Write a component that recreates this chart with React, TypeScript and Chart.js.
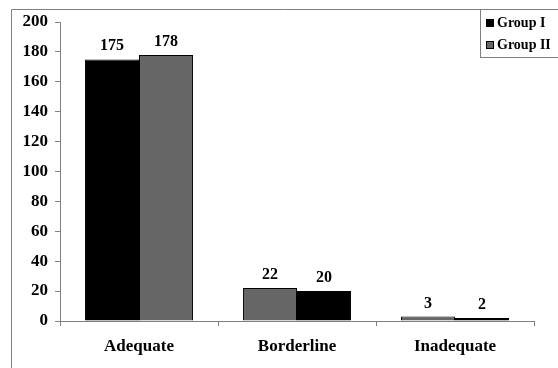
import React, { useEffect, useRef } from "react";
import { Chart, registerables } from "chart.js";

Chart.register(...registerables);

const categories = ["Adequate", "Borderline", "Inadequate"];
// Left bar in each group and right bar in each group (as drawn in the picture)
const leftValues = [175, 22, 3];
const rightValues = [178, 20, 2];
const leftColors = ["#000000", "#666666", "#666666"];
const rightColors = ["#666666", "#000000", "#000000"];
const legendLabels = ["Group I", "Group II"];
const legendColors = ["#000000", "#666666"];
const yTicks = { min: 0, max: 200, step: 20 };

const FONT = "'Liberation Serif', 'Times New Roman', serif";

const framePlugin = {
  id: "frame",
  beforeDraw(chart: any) {
    const ctx = chart.ctx;
    ctx.save();
    ctx.fillStyle = "#ffffff";
    ctx.fillRect(0, 0, chart.width, chart.height);
    ctx.strokeStyle = "#808080";
    ctx.lineWidth = 1;
    ctx.beginPath();
    ctx.moveTo(11.5, chart.height);
    ctx.lineTo(11.5, 9.5);
    ctx.lineTo(chart.width, 9.5);
    ctx.stroke();
    ctx.restore();
  },
};

const valueLabelPlugin = {
  id: "valueLabels",
  afterDatasetsDraw(chart: any) {
    const ctx = chart.ctx;
    ctx.save();
    ctx.font = `bold 16px ${FONT}`;
    ctx.fillStyle = "#000000";
    ctx.textAlign = "center";
    ctx.textBaseline = "alphabetic";
    chart.data.datasets.forEach((ds: any, di: number) => {
      const meta = chart.getDatasetMeta(di);
      meta.data.forEach((bar: any, i: number) => {
        ctx.fillText(String(ds.data[i]), bar.x, bar.y - 9);
      });
    });
    ctx.restore();
  },
};

const legendPlugin = {
  id: "customLegend",
  afterDraw(chart: any) {
    const ctx = chart.ctx;
    ctx.save();
    const x = 480.5;
    const y = 9.5;
    ctx.fillStyle = "#ffffff";
    ctx.fillRect(x, y, 100, 48);
    ctx.strokeStyle = "#808080";
    ctx.lineWidth = 1;
    ctx.strokeRect(x, y, 100, 48);
    ctx.font = `bold 14px ${FONT}`;
    ctx.textBaseline = "alphabetic";
    legendLabels.forEach((label, i) => {
      const cy = 27 + i * 22;
      ctx.fillStyle = legendColors[i];
      ctx.fillRect(486, cy - 8, 8, 8);
      ctx.strokeStyle = "#000000";
      ctx.strokeRect(486.5, cy - 7.5, 7, 7);
      ctx.fillStyle = "#000000";
      ctx.fillText(label, 497, cy);
    });
    ctx.restore();
  },
};

export default function App() {
  const canvasRef = useRef<HTMLCanvasElement | null>(null);

  useEffect(() => {
    document.body.style.margin = "0";
    const canvas = canvasRef.current;
    if (!canvas) return;
    const chart = new Chart(canvas, {
      type: "bar",
      data: {
        labels: categories,
        datasets: [
          {
            label: "left",
            data: leftValues,
            backgroundColor: leftColors,
            borderColor: "#000000",
            borderWidth: 1,
            barPercentage: 1,
            categoryPercentage: 0.684,
          },
          {
            label: "right",
            data: rightValues,
            backgroundColor: rightColors,
            borderColor: "#000000",
            borderWidth: 1,
            barPercentage: 1,
            categoryPercentage: 0.684,
          },
        ],
      },
      options: {
        animation: false,
        responsive: false,
        layout: { padding: { left: 0, right: 24, top: 22, bottom: 0 } },
        plugins: {
          legend: { display: false },
          tooltip: { enabled: false },
        },
        scales: {
          x: {
            grid: {
              offset: true,
              drawOnChartArea: false,
              drawTicks: true,
              tickLength: 5,
              color: "#808080",
            },
            border: { color: "#808080" },
            ticks: {
              color: "#000000",
              font: { family: FONT, size: 17, weight: "bold" },
              padding: 10,
              maxRotation: 0,
            },
            afterFit(scale: any) {
              scale.height = 47;
            },
          },
          y: {
            min: yTicks.min,
            max: yTicks.max,
            grid: {
              drawOnChartArea: false,
              drawTicks: true,
              tickLength: 5,
              color: "#808080",
            },
            border: { color: "#808080" },
            ticks: {
              stepSize: yTicks.step,
              color: "#000000",
              font: { family: FONT, size: 17, weight: "bold" },
              padding: 7,
            },
            afterFit(scale: any) {
              scale.width = 60;
            },
          },
        },
      },
      plugins: [framePlugin, valueLabelPlugin, legendPlugin],
    });
    return () => chart.destroy();
  }, []);

  return <canvas ref={canvasRef} width={558} height={368} style={{ display: "block" }} />;
}
